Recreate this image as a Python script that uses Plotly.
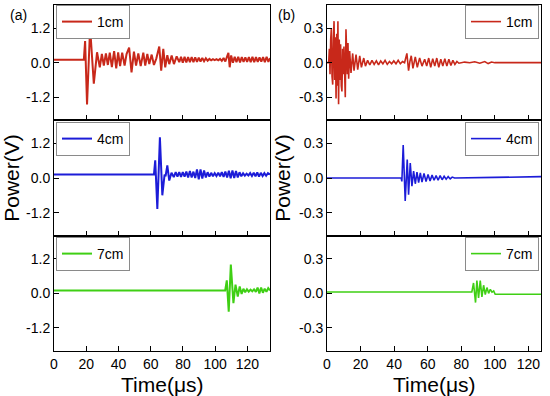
import plotly.graph_objects as go

# ---------------- data ----------------
# panel (a), 1 cm
t_a1 = [0, 18.5, 19.3, 20.5, 22.4, 24.7, 26.7, 28.4, 29.7, 30.9,
        32.2, 33.4, 34.6, 35.9, 37.3, 38.6, 39.8, 41.0, 42.3, 43.8,
        45.0, 46.6, 48.1, 49.6, 50.9, 52.3, 53.8, 55.4, 56.6, 57.9,
        59.1, 60.6, 62.0, 63.5, 65.3, 66.5, 67.8, 69.0, 70.3, 71.5,
        73.0, 74.4, 76.1, 77.7,
        78.8, 79.9, 81.0, 82.1, 83.2, 84.3, 85.4, 86.5, 87.6, 88.7,
        89.8, 90.9, 92.0, 93.1, 94.2, 95.3, 96.4, 97.5, 98.6, 99.7,
        100.8, 101.9, 103.0, 104.1, 105.2, 106.3, 107.4, 108.2, 109.0, 109.9,
        111.0, 112.1, 113.2, 114.3, 115.4, 116.5, 117.6, 118.7, 119.8, 120.9,
        122.0, 123.1, 124.2, 125.3, 126.4, 127.5, 128.6, 129.7, 130.8, 131.9,
        133.0, 134.0]
v_a1 = [0.1, 0.1, 0.75, -1.45, 1.22, -0.73, 0.36, -0.16, 0.3, -0.1,
        0.32, -0.08, 0.35, -0.15, 0.4, -0.2, 0.36, -0.12, 0.35, -0.1,
        0.3, 0.52, -0.34, 0.38, -0.1, 0.32, -0.12, 0.35, -0.1, 0.3,
        -0.05, 0.28, -0.08, 0.15, 0.56, -0.28, 0.48, -0.16, 0.26, -0.05,
        0.25, -0.05, 0.22, 0.02,
        0.2, 0.0, 0.2, 0.01, 0.19, 0.02, 0.19, 0.02, 0.18, 0.03,
        0.17, 0.04, 0.16, 0.05, 0.15, 0.07, 0.13, 0.08, 0.12, 0.09,
        0.12, 0.08, 0.13, 0.06, 0.16, 0.04, 0.22, 0.34, -0.16, 0.25,
        0.0, 0.2, 0.02, 0.2, 0.01, 0.19, 0.03, 0.18, 0.03, 0.19,
        0.02, 0.2, 0.02, 0.19, 0.03, 0.18, 0.04, 0.19, 0.02, 0.2,
        0.03, 0.16]

# panel (a), 4 cm
t_a4 = [0, 62.0, 62.8, 64.1, 65.7, 67.2, 68.6, 69.2, 70.3, 71.5,
        72.9, 74.3, 75.5, 76.6, 77.7, 78.8, 79.9, 81.0, 82.1, 83.2,
        84.3, 85.4, 86.5, 87.6, 88.7, 89.8, 90.9, 92.0, 93.1, 94.2,
        95.3, 96.4, 97.5, 98.6, 99.7, 100.8, 101.9, 103.0, 104.1, 105.2,
        106.3, 107.4, 108.5, 109.6, 110.7, 111.8, 112.9, 114.0, 115.1, 116.2,
        117.3, 118.4, 119.5, 120.6, 121.7, 122.8, 123.9, 125.0, 126.1, 127.2,
        128.3, 129.4, 130.5, 131.6, 132.7, 134.0]
v_a4 = [0.12, 0.12, 0.61, -1.07, 1.41, -0.6, 0.12, 0.06, 0.44, -0.09,
        0.18, 0.03, 0.2, 0.05, 0.2, 0.04, 0.2, 0.05, 0.22, 0.02,
        0.24, 0.02, 0.22, 0.0, 0.3, -0.05, 0.3, -0.02, 0.26, 0.02,
        0.2, 0.05, 0.18, 0.06, 0.17, 0.07, 0.18, 0.06, 0.2, 0.04,
        0.22, 0.02, 0.25, -0.01, 0.26, 0.0, 0.24, 0.02, 0.2, 0.06,
        0.16, 0.08, 0.15, 0.09, 0.17, 0.07, 0.18, 0.06, 0.19, 0.05,
        0.18, 0.07, 0.17, 0.08, 0.17, 0.12]

# panel (a), 7 cm
t_a7 = [0, 106.2, 107.2, 108.4, 109.7, 111.3, 112.6, 114.0, 115.2, 116.4,
        117.5, 118.6, 119.7, 120.8, 121.9, 123.0, 124.1, 125.2, 126.3, 127.4,
        128.5, 129.6, 130.7, 131.8, 132.9, 134.0]
v_a7 = [0.1, 0.1, 0.45, -0.64, 1.0, -0.34, 0.3, -0.11, 0.24, -0.02,
        0.16, 0.04, 0.14, 0.06, 0.13, 0.07, 0.14, 0.05, 0.2, 0.0,
        0.2, 0.02, 0.16, 0.05, 0.18, 0.1]

# panel (b), 1 cm
t_b1 = [0, 1.0, 1.4, 1.8, 2.2, 2.6, 3.0, 3.4, 3.8, 4.2,
        4.6, 5.0, 5.4, 5.8, 6.2, 6.5, 6.9, 7.3, 7.7, 8.1,
        8.5, 8.9, 9.3, 9.7, 10.1, 10.5, 10.9, 11.3, 11.7, 12.1,
        12.5, 12.9, 13.5, 14.3, 15.3, 16.1, 17.3, 18.3, 19.5, 20.5,
        21.9, 22.9,
        24.2, 25.5, 26.8, 28.1, 29.4, 30.7, 32.0, 33.3, 34.6, 35.9,
        37.2, 38.5, 39.8, 41.1, 42.4, 43.7, 45.0, 46.2, 47.6, 48.6,
        49.4, 50.2, 51.2, 52.6, 53.8, 55.2, 56.6, 58.2, 59.4, 60.6,
        61.8, 63.0, 64.2, 65.4, 66.6, 67.8, 69.0, 70.2, 71.4, 72.6,
        73.8, 75.0, 76.2, 77.4, 78.6, 82, 85, 88, 91, 94,
        96, 98, 100, 127.5]
v_b1 = [0, 0.0, 0.12, -0.1, 0.2, 0.30, -0.12, -0.19, 0.2, 0.36,
        -0.15, 0.22, -0.31, 0.25, -0.2, 0.36, -0.36, 0.2, -0.15, 0.16,
        -0.2, -0.25, 0.12, -0.1, 0.14, -0.15, -0.3, 0.29, 0.1, -0.1,
        0.17, -0.14, 0.10, -0.09, 0.08, -0.07, 0.07, -0.06, 0.06, -0.04,
        0.04, -0.03,
        0.02, -0.02, 0.02, -0.015, 0.015, -0.02, 0.015, -0.01, 0.02, -0.015,
        0.01, -0.01, 0.015, -0.01, 0.02, -0.01, 0.01, 0.0, 0.08, -0.07,
        0.01, 0.06, -0.05, 0.05, -0.04, 0.04, -0.03, 0.03, -0.03, 0.04,
        -0.04, 0.035, -0.03, 0.04, -0.04, 0.03, -0.03, 0.035, -0.03, 0.03,
        -0.025, 0.02, -0.015, 0.01, -0.005, 0.005, 0.0, 0.008, -0.005, 0.01,
        -0.008, 0.006, 0.0, 0.0]

# panel (b), 4 cm
t_b4 = [0, 44.2, 44.6, 45.4, 46.6, 47.8, 48.6, 49.6, 50.6, 51.6,
        52.6, 53.6, 54.6, 55.6, 56.6, 57.8, 59.0, 60.2, 61.4, 62.6,
        63.8, 65.0, 66.2, 67.4, 68.6, 69.8, 71.0, 72.2, 73.4, 74.6,
        76.0, 80, 100, 127.5]
v_b4 = [0, 0, -0.03, 0.285, -0.2, 0.16, -0.145, 0.13, -0.07, 0.06,
        -0.05, 0.05, -0.04, 0.045, -0.035, 0.04, -0.03, 0.03, -0.025, 0.025,
        -0.02, 0.02, -0.02, 0.02, -0.015, 0.015, -0.01, 0.012, -0.008, 0.008,
        0.0, 0.0, 0.005, 0.012]

# panel (b), 7 cm
t_b7 = [0, 86.3, 87.3, 88.5, 89.3, 90.3, 91.3, 92.3, 93.3, 94.3,
        95.3, 96.3, 97.3, 98.3, 99.3, 100.2, 127.5]
v_b7 = [0.012, 0.012, 0.09, -0.08, 0.11, -0.04, 0.11, -0.03, 0.07, -0.01,
        0.05, 0.0, 0.035, 0.01, 0.02, -0.008, -0.008]

series_names = ["1cm", "4cm", "7cm"]
series_colors = ["#c8281a", "#1c1cd8", "#3fcf14"]
x_tick_vals = [0, 20, 40, 60, 80, 100, 120]
y_ticks_a = [-1.2, 0.0, 1.2]
y_ticks_b = [-0.3, 0.0, 0.3]
y_tick_text_a = ["-1.2", "0.0", "1.2"]
y_tick_text_b = ["-0.3", "0.0", "0.3"]

# ---------------- figure ----------------
FONT = "Arial, Liberation Sans, sans-serif"
W, H = 550, 396
ML, MR, MT, MB = 54, 9, 5, 45
PW, PH = W - ML - MR, H - MT - MB

def px2x(p):
    return (p - ML) / PW

def py2y(p):
    return 1 - (p - MT) / PH

xdom_L = [0, px2x(270)]
xdom_R = [px2x(327), 1]
ydoms = [[2 / 3, 1], [1 / 3, 2 / 3], [0, 1 / 3]]

panels = [
    (t_a1, v_a1, 0, 0), (t_a4, v_a4, 1, 0), (t_a7, v_a7, 2, 0),
    (t_b1, v_b1, 0, 1), (t_b4, v_b4, 1, 1), (t_b7, v_b7, 2, 1),
]

fig = go.Figure()
layout = dict(
    width=W, height=H,
    margin=dict(l=ML, r=MR, t=MT, b=MB),
    paper_bgcolor="white", plot_bgcolor="white",
    font=dict(family=FONT, size=14, color="black"),
    showlegend=True,
)

legend_y_px = [5, 122, 237]

for i, (tt, vv, row, col) in enumerate(panels):
    n = i + 1
    xa = "x" if n == 1 else f"x{n}"
    ya = "y" if n == 1 else f"y{n}"
    lg = "legend" if n == 1 else f"legend{n}"
    fig.add_trace(go.Scatter(
        x=tt, y=vv, mode="lines", name=series_names[row],
        line=dict(color=series_colors[row], width=2 if col == 0 else 1.6),
        xaxis=xa, yaxis=ya, legend=lg, showlegend=True,
    ))
    xkey = "xaxis" if n == 1 else f"xaxis{n}"
    ykey = "yaxis" if n == 1 else f"yaxis{n}"
    bottom = row == 2
    layout[xkey] = dict(
        domain=xdom_L if col == 0 else xdom_R,
        anchor=ya,
        range=[0, 134] if col == 0 else [0, 127.5],
        tickmode="array", tickvals=x_tick_vals,
        ticks="inside", ticklen=5, tickwidth=1, tickcolor="black",
        showticklabels=bottom,
        tickfont=dict(size=14, family=FONT),
        showline=True, linecolor="black", linewidth=1, mirror=True,
        showgrid=False, zeroline=False,
    )
    layout[ykey] = dict(
        domain=ydoms[row],
        anchor=xa,
        range=[-2.0, 2.0] if col == 0 else [-0.5, 0.5],
        tickmode="array",
        tickvals=y_ticks_a if col == 0 else y_ticks_b,
        ticktext=y_tick_text_a if col == 0 else y_tick_text_b,
        ticks="inside", ticklen=5, tickwidth=1, tickcolor="black",
        tickfont=dict(size=14, family=FONT),
        showline=True, linecolor="black", linewidth=1, mirror=True,
        showgrid=False, zeroline=False,
        title=dict(text="Power(V)" if row == 1 else "",
                   font=dict(size=21, family=FONT), standoff=2),
    )
    layout[lg] = dict(
        x=px2x(56) if col == 0 else px2x(539),
        xanchor="left" if col == 0 else "right",
        y=py2y(legend_y_px[row]), yanchor="top",
        bgcolor="white", bordercolor="#8a8a8a", borderwidth=1,
        font=dict(size=14, family=FONT),
        itemwidth=30,
    )

layout["annotations"] = [
    dict(text="(a)", x=px2x(18), y=py2y(15), xref="paper", yref="paper",
         xanchor="center", yanchor="middle", showarrow=False,
         font=dict(size=14, family=FONT)),
    dict(text="(b)", x=px2x(286), y=py2y(15), xref="paper", yref="paper",
         xanchor="center", yanchor="middle", showarrow=False,
         font=dict(size=14, family=FONT)),
    dict(text="Time(μs)", x=sum(xdom_L) / 2, y=py2y(371), xref="paper",
         yref="paper", xanchor="center", yanchor="top", showarrow=False,
         font=dict(size=21, family=FONT)),
    dict(text="Time(μs)", x=sum(xdom_R) / 2, y=py2y(371), xref="paper",
         yref="paper", xanchor="center", yanchor="top", showarrow=False,
         font=dict(size=21, family=FONT)),
]

fig.update_layout(**layout)
fig.write_html(
    "out.html",
    config={"displayModeBar": False},
    post_script="document.body.style.margin='0';"
                "document.documentElement.style.overflow='hidden';",
)
